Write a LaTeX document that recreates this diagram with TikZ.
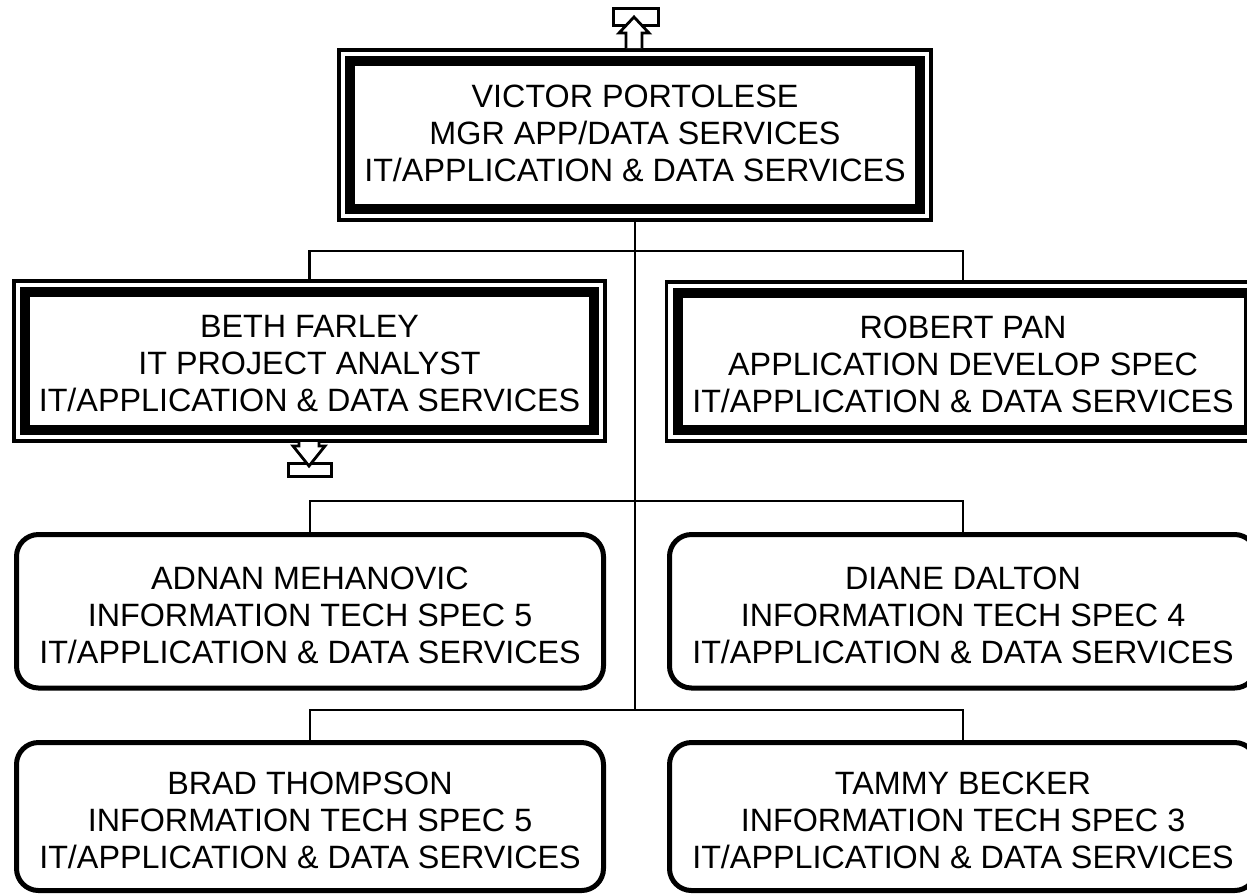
\documentclass[tikz,border=0pt]{standalone}
\usepackage{fontspec}
\setmainfont{Liberation Sans}
\begin{document}
\begin{tikzpicture}[x=1pt,y=-1pt,
  lbl/.style={font=\fontsize{32.3}{37}\selectfont, align=center, inner sep=0pt},
  conn/.style={line width=2.7pt},
  outerln/.style={line width=3.5pt},
  innerln/.style={line width=10pt},
  dbox/.style={draw=none, outer sep=0pt, inner sep=0pt, minimum width=#1},
  rbox/.style={draw, line width=5pt, rounded corners=22pt, outer sep=0pt, inner sep=0pt, minimum width=587pt},
  icon/.style={line width=2.8pt, fill=white, line join=miter}
]
\useasboundingbox (0,0) rectangle (1247,895);

% box frames (shape nodes)
\node[dbox=592pt, minimum height=170pt] (victor) at (635,135) {};
\node[dbox=591pt, minimum height=160pt] (beth) at (309.5,361) {};
\node[dbox=593pt, minimum height=159pt] (robert) at (963,361.5) {};
\node[rbox, minimum height=153.5pt] (adnan) at (310,611.25) {};
\node[rbox, minimum height=153.5pt] (diane) at (963,611.25) {};
\node[rbox, minimum height=148pt] (brad) at (310,816.5) {};
\node[rbox, minimum height=148pt] (tammy) at (963,816.5) {};

% junction coordinates
\coordinate (h1) at (636,251);
\coordinate (h2) at (636,501);
\coordinate (h3) at (636,710);

% connectors
\draw[conn] (victor.south) -- (victor.south |- h3);
\draw[conn] (beth.north) -- (beth.north |- h1) -- (robert.north |- h1) -- (robert.north);
\draw[conn] (adnan.north) -- (adnan.north |- h2) -- (diane.north |- h2) -- (diane.north);
\draw[conn] (brad.north) -- (brad.north |- h3) -- (tammy.north |- h3) -- (tammy.north);

% double borders
\foreach \b in {victor,beth,robert}{
  \draw[outerln, fill=white] (\b.north west) rectangle (\b.south east);
  \draw[innerln] ([shift={(11,11)}]\b.north west) rectangle ([shift={(-11,-11)}]\b.south east);
}

% texts
\node[lbl] (victorT) at (635,133) {VICTOR PORTOLESE\\MGR APP/DATA SERVICES\\IT/APPLICATION \& DATA SERVICES};
\node[lbl] (bethT) at (309.5,364) {BETH FARLEY\\IT PROJECT ANALYST\\IT/APPLICATION \& DATA SERVICES};
\node[lbl] (robertT) at (963,364) {ROBERT PAN\\APPLICATION DEVELOP SPEC\\IT/APPLICATION \& DATA SERVICES};
\node[lbl] (adnanT) at (310,615) {ADNAN MEHANOVIC\\INFORMATION TECH SPEC 5\\IT/APPLICATION \& DATA SERVICES};
\node[lbl] (dianeT) at (963,615) {DIANE DALTON\\INFORMATION TECH SPEC 4\\IT/APPLICATION \& DATA SERVICES};
\node[lbl] (bradT) at (310,820) {BRAD THOMPSON\\INFORMATION TECH SPEC 5\\IT/APPLICATION \& DATA SERVICES};
\node[lbl] (tammyT) at (963,820) {TAMMY BECKER\\INFORMATION TECH SPEC 3\\IT/APPLICATION \& DATA SERVICES};

% up icon above Victor
\draw[icon] (613.5,8.5) rectangle (658.5,25.5);
\draw[icon] (626,48) -- (626,33) -- (619,33) -- (634,17) -- (649,33) -- (642,33) -- (642,48);

% down icon below Beth
\draw[icon] (288.5,463.5) rectangle (331.5,476.5);
\draw[icon] (299,442) -- (299,446) -- (293,446) -- (309,466) -- (325,446) -- (319,446) -- (319,442);
\end{tikzpicture}
\end{document}
